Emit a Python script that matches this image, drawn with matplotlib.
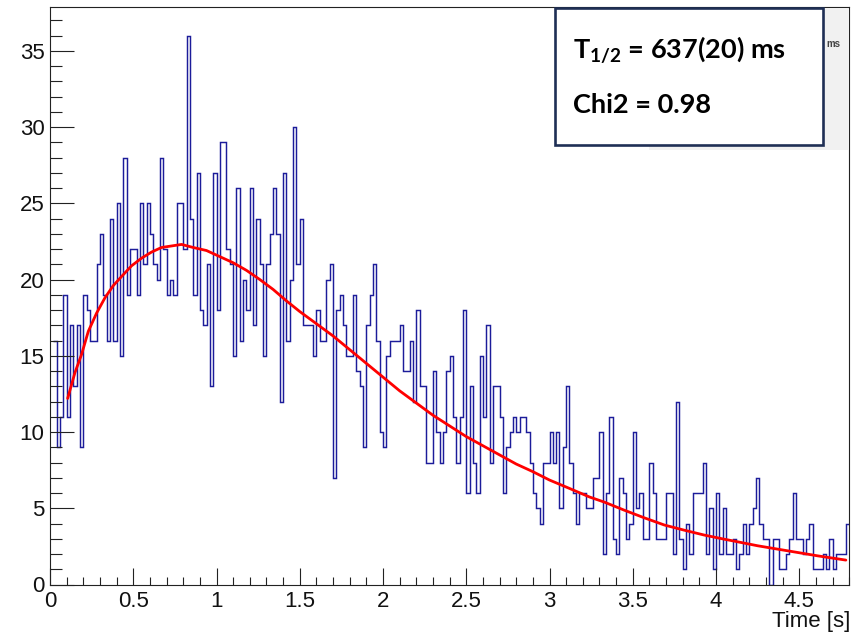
import numpy as np
import matplotlib
matplotlib.use("Agg")
import matplotlib.pyplot as plt
from matplotlib.patches import Rectangle
from matplotlib.ticker import MultipleLocator

# ---- data -------------------------------------------------------------
bin_width = 0.02          # s
first_edge = 0.02         # s, first filled bin starts here
counts = [
    16, 9, 11, 19, 11, 17, 13, 17, 9, 19,
    18, 16, 16, 21, 23, 19, 16, 24, 16, 25,
    15, 28, 19, 22, 22, 19, 25, 21, 25, 23,
    21, 20, 28, 22, 19, 20, 19, 25, 25, 22,
    36, 24, 19, 27, 18, 17, 21, 13, 27, 18,
    29, 29, 22, 21, 15, 26, 16, 20, 18, 26,
    17, 24, 21, 15, 21, 23, 26, 23, 12, 27,
    16, 20, 30, 21, 24, 17, 17, 17, 15, 18,
    16, 16, 20, 21, 7, 18, 19, 17, 15, 15,
    19, 14, 13, 9, 17, 19, 21, 16, 10, 9,
    15, 16, 16, 16, 17, 14, 14, 16, 12, 18,
    13, 13, 8, 8, 14, 10, 8, 10, 14, 15,
    11, 8, 11, 18, 6, 13, 8, 6, 15, 11,
    17, 8, 13, 13, 11, 6, 9, 10, 11, 10,
    11, 11, 10, 8, 6, 5, 4, 8, 8, 10,
    8, 10, 5, 9, 13, 8, 6, 4, 6, 6,
    5, 5, 7, 7, 10, 2, 6, 11, 3, 2,
    7, 6, 3, 4, 10, 5, 6, 3, 3, 8,
    6, 3, 3, 3, 6, 6, 2, 12, 3, 1,
    4, 2, 6, 6, 6, 8, 2, 5, 1, 6,
    2, 5, 2, 2, 3, 1, 2, 4, 2, 4,
    5, 7, 4, 3, 3, 0, 3, 3, 1, 1,
    2, 3, 6, 3, 3, 2, 3, 4, 1, 1,
    1, 2, 1, 3, 1, 2, 2, 2, 4,
]

# fitted decay curve, sampled values (time in s, counts per bin)
fit_t = [0.106, 0.15, 0.19, 0.23, 0.28, 0.33, 0.38, 0.43, 0.49, 0.55,
         0.61, 0.67, 0.73, 0.79, 0.86, 0.94, 1.02, 1.10, 1.18, 1.26,
         1.34, 1.42, 1.50, 1.60, 1.70, 1.80, 1.90, 2.00, 2.10, 2.20,
         2.30, 2.40, 2.50, 2.60, 2.70, 2.80, 2.90, 3.00, 3.12, 3.24,
         3.33, 3.45, 3.57, 3.69, 3.81, 3.93, 4.05, 4.13, 4.25, 4.37,
         4.49, 4.61, 4.78]
fit_y = [12.2, 13.9, 15.1, 16.6, 17.8, 18.8, 19.6, 20.2, 20.9, 21.4,
         21.8, 22.1, 22.2, 22.3, 22.1, 21.9, 21.5, 21.1, 20.6, 20.0,
         19.35, 18.6, 17.9, 17.1, 16.3, 15.4, 14.5, 13.6, 12.7, 11.9,
         11.1, 10.4, 9.7, 9.1, 8.5, 7.9, 7.4, 6.85, 6.3, 5.74,
         5.4, 4.87, 4.37, 3.9, 3.56, 3.24, 2.97, 2.8, 2.54, 2.32,
         2.1, 1.88, 1.6]

half_life_label = r"$\mathrm{T}_{\mathrm{1/2}}$ = 637(20) ms"
chi2_label = "Chi2 = 0.98"
x_label = "Time [s]"

# ---- figure -----------------------------------------------------------
W, H = 858, 636
plt.rcParams["font.family"] = ["Liberation Sans", "DejaVu Sans"]
plt.rcParams["mathtext.fontset"] = "custom"
plt.rcParams["mathtext.rm"] = "Lato:bold"

fig = plt.figure(figsize=(W / 100, H / 100), dpi=100)
fig.patch.set_facecolor("white")

ax_l, ax_r = 50, 849.2
ax_t, ax_b = 7, 584.5
ax = fig.add_axes([ax_l / W, 1 - ax_b / H, (ax_r - ax_l) / W, (ax_b - ax_t) / H])

edges = first_edge + bin_width * np.arange(len(counts) + 1)
ax.stairs(counts, edges, baseline=None, color="#1c1c9a", lw=1.05)
ax.plot(fit_t, fit_y, color="#ff0000", lw=2.0, solid_capstyle="round")

ax.set_xlim(0, 4.8)
ax.set_ylim(0, 37.87)

ax.xaxis.set_major_locator(MultipleLocator(0.5))
ax.xaxis.set_minor_locator(MultipleLocator(0.1))
ax.yaxis.set_major_locator(MultipleLocator(5))
ax.yaxis.set_minor_locator(MultipleLocator(1))
ax.set_xticks([0, 0.5, 1, 1.5, 2, 2.5, 3, 3.5, 4, 4.5])
ax.set_xticklabels(["0", "0.5", "1", "1.5", "2", "2.5", "3", "3.5", "4", "4.5"])

ax.tick_params(axis="both", which="both", direction="in", top=False, right=False,
               color="#222222", width=0.8, labelsize=16, labelcolor="#111111")
ax.tick_params(axis="y", which="major", length=17.3, pad=4)
ax.tick_params(axis="y", which="minor", length=8.8)
ax.tick_params(axis="x", which="major", length=12.2, pad=5)
ax.tick_params(axis="x", which="minor", length=6.1)

for s in ax.spines.values():
    s.set_color("#222222")
    s.set_linewidth(0.8)

fig.text(850 / W, 1 - 622 / H, x_label, ha="right", va="center",
         fontsize=16, color="#111111")

# partially hidden statistics panel in the corner
fig.add_artist(Rectangle((649 / W, 1 - 150 / H), (848 - 649) / W, (150 - 8) / H,
                         transform=fig.transFigure, facecolor="#f1f1f1",
                         edgecolor="none", zorder=3))
fig.text(833 / W, 1 - 44 / H, "ms", fontsize=7, fontweight="bold", color="#444444",
         ha="center", va="center", zorder=4)

# result box
fig.add_artist(Rectangle((555 / W, 1 - 145 / H), (823 - 555) / W, (145 - 8) / H,
                         transform=fig.transFigure, facecolor="white",
                         edgecolor="#1f2f55", lw=1.9, zorder=5))
fig.text(573 / W, 1 - 59 / H, half_life_label, fontsize=19.5, fontweight="bold",
         family="Lato", ha="left", va="baseline", color="black", zorder=6)
fig.text(573 / W, 1 - 113 / H, chi2_label, fontsize=19.5, fontweight="bold",
         family="Lato", ha="left", va="baseline", color="black", zorder=6)

fig.savefig("out.png", dpi=100, facecolor="white")
